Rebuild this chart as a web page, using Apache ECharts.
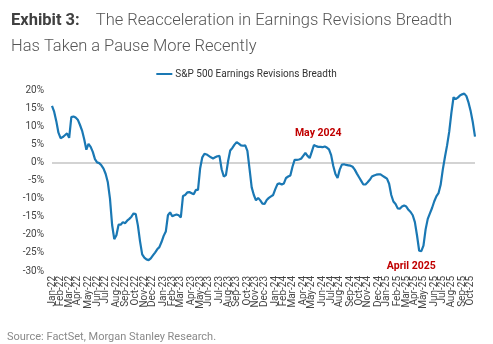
<!DOCTYPE html>
<html>
<head>
<meta charset="utf-8">
<script src="https://cdn.jsdelivr.net/npm/echarts@6/dist/echarts.min.js"></script>
<style>
  html, body { margin: 0; padding: 0; background: #ffffff; }
  #chart { width: 493px; height: 344px; }
</style>
</head>
<body>
<div id="chart"></div>
<script>
// Weekly S&P 500 earnings revisions breadth (%), Fridays from 7 Jan 2022
const startDate = '2022-01-07';
const breadth = [
  15.6, 14.0, 11.4, 8.2, 6.7, 7.0, 7.5, 8.0, 6.8, 12.5,
  12.7, 12.4, 11.8, 10.4, 8.8, 6.4, 3.5, 5.1, 4.3, 2.9,
  0.9, 0.0, -0.2, -0.8, -1.7, -3.2, -5.5, -10.0, -17.3, -21.2,
  -20.1, -17.2, -17.2, -16.5, -16.8, -16.1, -15.6, -15.0, -14.1, -14.3,
  -17.4, -21.8, -25.4, -26.3, -26.8, -27.0, -26.5, -25.7, -24.9, -24.0,
  -23.4, -22.0, -20.3, -19.1, -14.6, -13.8, -14.9, -14.6, -14.4, -14.6,
  -15.2, -9.3, -9.0, -8.3, -8.2, -8.5, -8.8, -7.6, -7.6, -1.6,
  1.4, 2.4, 2.2, 1.8, 1.4, 1.1, 1.4, 1.7, 1.8, -1.9,
  -3.9, -3.5, 0.3, 3.3, 4.0, 4.9, 5.6, 5.2, 4.7, 4.6,
  4.7, 3.2, -1.8, -6.9, -9.0, -10.5, -9.8, -10.5, -11.4, -11.5,
  -10.4, -9.8, -9.4, -9.0, -7.4, -6.0, -5.8, -6.1, -5.8, -4.3,
  -3.9, -3.6, -1.2, 0.7, 0.7, 0.8, 1.0, 1.8, 2.6, 1.8,
  1.2, 3.0, 4.8, 4.5, 4.3, 4.3, 4.2, 4.4, 4.1, 3.6,
  2.0, -1.0, -3.2, -4.3, -2.0, -0.6, -0.5, -0.7, -0.8, -0.9,
  -1.2, -2.0, -3.1, -4.1, -5.1, -6.1, -6.1, -5.5, -4.8, -3.9,
  -3.6, -3.4, -3.3, -3.3, -3.7, -4.1, -4.5, -5.9, -9.0, -10.8,
  -11.5, -12.7, -12.8, -12.2, -11.9, -12.2, -13.1, -13.7, -14.6, -16.5,
  -20.2, -24.4, -24.5, -23.0, -18.5, -15.6, -14.1, -12.6, -10.8, -9.4,
  -8.5, -6.2, -2.0, 1.5, 4.7, 8.5, 13.7, 18.0, 17.5, 17.9,
  18.5, 18.8, 19.0, 18.3, 16.5, 14.1, 11.0, 7.1
];
const monthNames = ['Jan','Feb','Mar','Apr','May','Jun','Jul','Aug','Sep','Oct','Nov','Dec'];
const yTicks = [-30, -25, -20, -15, -10, -5, 0, 5, 10, 15, 20];
const callouts = [
  { text: 'May 2024', week: 124, value: 4.3 },
  { text: 'April 2025', week: 172, value: -24.5 }
];

// weekly date categories
const weeks = [];
const base = new Date(startDate + 'T00:00:00Z');
for (let i = 0; i < breadth.length; i++) {
  const d = new Date(base.getTime() + i * 7 * 86400000);
  weeks.push(d.toISOString().slice(0, 10));
}
function monthOf(s) { return s.slice(0, 7); }
function monthLabel(s) {
  return monthNames[parseInt(s.slice(5, 7), 10) - 1] + '-' + s.slice(2, 4);
}
// only the first week of each month carries a label
function isMonthStart(idx) {
  return idx === 0 || monthOf(weeks[idx]) !== monthOf(weeks[idx - 1]);
}

const chart = echarts.init(document.getElementById('chart'), null, { renderer: 'canvas' });
const FONT = 'Roboto, "Liberation Sans", Arial, sans-serif';

chart.setOption({
  animation: false,
  backgroundColor: '#ffffff',
  textStyle: { fontFamily: FONT },
  title: {
    left: 6,
    top: 3,
    text: '{b|Exhibit 3:}{r|    The Reacceleration in Earnings Revisions Breadth}\n{r|Has Taken a Pause More Recently}',
    textStyle: {
      rich: {
        b: { fontFamily: FONT, fontSize: 16.5, fontWeight: 'bold', color: '#404040', lineHeight: 26 },
        r: { fontFamily: FONT, fontSize: 16.5, fontWeight: 300, color: '#555555', lineHeight: 26 }
      }
    }
  },
  legend: {
    top: 64,
    left: 'center',
    itemWidth: 16,
    itemHeight: 2,
    itemGap: 2,
    icon: 'rect',
    textStyle: { fontSize: 10, color: '#333333', fontFamily: FONT, padding: [0, 0, 0, -2] },
    data: ['S&P 500 Earnings Revisions Breadth']
  },
  grid: { left: 52, right: 18, top: 90, bottom: 73 },
  xAxis: {
    type: 'category',
    data: weeks,
    boundaryGap: false,
    axisLine: { show: false },
    axisTick: { show: false },
    splitLine: { show: false },
    axisLabel: {
      rotate: 90,
      margin: 5,
      fontSize: 10,
      color: '#444444',
      fontFamily: FONT,
      hideOverlap: false,
      interval: 0,
      formatter: function (val, idx) { return isMonthStart(idx) ? monthLabel(val) : ''; }
    }
  },
  yAxis: {
    type: 'value',
    min: yTicks[0],
    max: yTicks[yTicks.length - 1],
    interval: 5,
    axisLine: { show: false },
    axisTick: { show: false },
    splitLine: { show: false },
    axisLabel: {
      margin: 8,
      fontSize: 10,
      color: '#444444',
      fontFamily: FONT,
      formatter: '{value}%'
    }
  },
  series: [{
    name: 'S&P 500 Earnings Revisions Breadth',
    type: 'line',
    data: breadth,
    showSymbol: false,
    symbol: 'none',
    lineStyle: { color: '#1a78b4', width: 2.2 },
    itemStyle: { color: '#1a78b4' },
    z: 3,
    markLine: {
      silent: true,
      symbol: 'none',
      label: { show: false },
      lineStyle: { color: '#d3d3d3', width: 2, type: 'solid' },
      data: [{ yAxis: 0 }],
      z: 1
    },
    markPoint: {
      symbol: 'circle',
      symbolSize: 0,
      data: callouts.map(function (c, k) {
        return {
          coord: [weeks[c.week], c.value],
          label: {
            show: true,
            formatter: c.text,
            color: '#c00000',
            fontWeight: 'bold',
            fontSize: 10.5,
            fontFamily: FONT,
            position: k === 0 ? 'top' : 'bottom',
            distance: k === 0 ? 8 : 10,
            offset: k === 0 ? [0, 0] : [-10, 0]
          }
        };
      })
    }
  }],
  graphic: [{
    type: 'text',
    left: 7,
    top: 332,
    style: {
      text: 'Source: FactSet, Morgan Stanley Research.',
      fill: '#8a8a8a',
      fontSize: 11,
      fontFamily: FONT
    }
  }]
});
</script>
</body>
</html>
